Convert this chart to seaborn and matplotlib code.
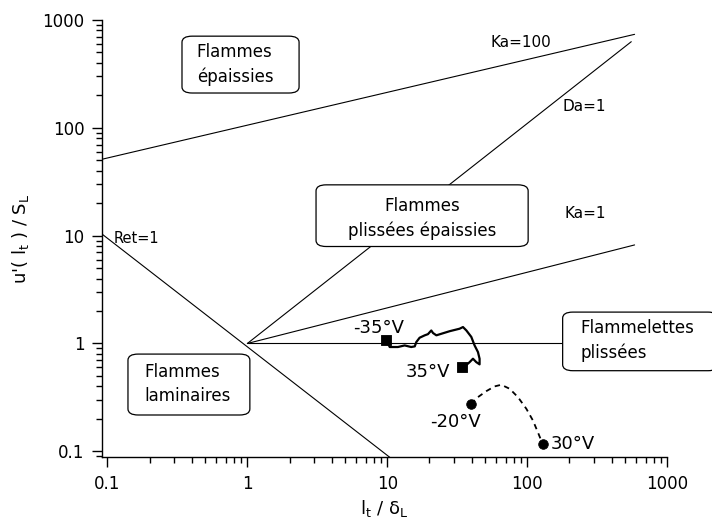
import matplotlib
matplotlib.use("Agg")
from matplotlib import pyplot as plt
from matplotlib.patches import FancyBboxPatch
from matplotlib.ticker import LogLocator, NullFormatter
import seaborn as sns

sns.set_style("ticks")
plt.rcParams['font.family'] = ['DejaVu Sans']
plt.rcParams['text.color'] = 'black'
plt.rcParams['axes.labelcolor'] = 'black'

# Axis ticks
tick_vals = [0.1, 1, 10, 100, 1000]
tick_labels = ["0.1", "1", "10", "100", "1000"]

# Regime boundaries of the combustion diagram
ret1_x = [0.091, 10.4]
ret1_y = [10.4, 0.088]
ka100_x = [0.091, 584]
ka100_y = [51, 736]
da1_x = [1, 553]
da1_y = [1, 629]
ka1_x = [1, 584]
ka1_y = [1, 8.2]
flam_x = [1, 600]
flam_y = [1, 1]

# Measured path -35 V -> 35 V
sq_x = [9.84, 10.4, 11.9, 13.3, 14.8, 15.7, 16.1, 17.0, 18.5, 19.5, 20.6, 21.2,
        22.4, 24.3, 27.9, 32.8, 34.7, 36.7, 39.8, 42.0, 44.4, 45.6, 45.6, 43.2,
        40.9, 38.7, 35.7, 34.1]
sq_y = [1.07, 0.927, 0.927, 0.959, 0.927, 0.94, 1.03, 1.13, 1.19, 1.22, 1.32, 1.25,
        1.19, 1.23, 1.30, 1.37, 1.42, 1.32, 1.15, 0.959, 0.832, 0.722, 0.64, 0.671,
        0.722, 0.671, 0.612, 0.604]

# Measured path -20 V -> 30 V
ci_x = [39.4, 44.4, 50.9, 58.4, 65.2, 74.8, 85.7, 98.4, 109.7, 119, 129]
ci_y = [0.276, 0.318, 0.361, 0.40, 0.414, 0.38, 0.318, 0.248, 0.193, 0.150, 0.116]

fig = plt.figure(figsize=(7.12, 5.30), dpi=100)
ax = fig.add_axes([0.1428, 0.1372, 0.7944, 0.8251])

for xs, ys in [(ret1_x, ret1_y), (ka100_x, ka100_y), (da1_x, da1_y),
               (ka1_x, ka1_y), (flam_x, flam_y)]:
    sns.lineplot(x=xs, y=ys, ax=ax, color="black", lw=0.8, sort=False,
                 estimator=None, zorder=2)

sns.lineplot(x=sq_x, y=sq_y, ax=ax, color="black", lw=1.6, sort=False,
             estimator=None, zorder=3)
sns.lineplot(x=ci_x, y=ci_y, ax=ax, color="black", lw=1.3, sort=False,
             estimator=None, zorder=3, linestyle=(0, (3, 2.5)))
sns.scatterplot(x=[sq_x[0], sq_x[-1]], y=[sq_y[0], sq_y[-1]], ax=ax, marker="s",
                s=60, color="black", edgecolor="black", zorder=4)
sns.scatterplot(x=[ci_x[0], ci_x[-1]], y=[ci_y[0], ci_y[-1]], ax=ax, marker="o",
                s=48, color="black", edgecolor="black", zorder=4)

ax.set_xscale("log")
ax.set_yscale("log")
ax.set_xlim(0.091, 1000)
ax.set_ylim(0.088, 1000)
ax.set_xticks(tick_vals)
ax.set_xticklabels(tick_labels)
ax.set_yticks(tick_vals)
ax.set_yticklabels(tick_labels)
ax.xaxis.set_minor_locator(LogLocator(base=10, subs=range(2, 10)))
ax.yaxis.set_minor_locator(LogLocator(base=10, subs=range(2, 10)))
ax.xaxis.set_minor_formatter(NullFormatter())
ax.yaxis.set_minor_formatter(NullFormatter())
ax.tick_params(which="major", length=7.5, width=1, labelsize=12, pad=5,
               colors="black")
ax.tick_params(which="minor", length=4.3, width=1, colors="black")
sns.despine(ax=ax)
for s in ["left", "bottom"]:
    ax.spines[s].set_linewidth(1)
    ax.spines[s].set_color("black")

ax.set_xlabel(r"l$_\mathregular{t}$ / δ$_\mathregular{L}$", fontsize=13, labelpad=4)
ax.set_ylabel(r"u'( l$_\mathregular{t}$ ) / S$_\mathregular{L}$", fontsize=13,
              labelpad=8)

# Regime boxes (axes coords)
boxes = [
    (0.142, 0.833, 0.349, 0.963, "Flammes\népaissies", 0.168, 0.898, "left"),
    (0.379, 0.482, 0.754, 0.623, "Flammes\nplissées épaissies", 0.566, 0.545, "center"),
    (0.0465, 0.0967, 0.262, 0.236, "Flammes\nlaminaires", 0.0748, 0.167, "left"),
    (0.815, 0.198, 1.09, 0.332, "Flammelettes\nplissées", 0.847, 0.266, "left"),
]
for x0, y0, x1, y1, txt, tx, ty, al in boxes:
    p = FancyBboxPatch((x0, y0), x1 - x0, y1 - y0, boxstyle="round,pad=0,rounding_size=0.018",
                       transform=ax.transAxes, fc="white", ec="black", lw=0.9,
                       zorder=5, clip_on=False, mutation_aspect=437.3 / 565.6)
    ax.add_patch(p)
    ax.text(tx, ty, txt, transform=ax.transAxes, ha=al, va="center",
            multialignment=al, fontsize=12, linespacing=1.45, zorder=6)

# Line labels
ax.text(0.742, 0.949, "Ka=100", transform=ax.transAxes, ha="center", va="center", fontsize=11)
ax.text(0.853, 0.803, "Da=1", transform=ax.transAxes, ha="center", va="center", fontsize=11)
ax.text(0.855, 0.558, "Ka=1", transform=ax.transAxes, ha="center", va="center", fontsize=11)
ax.text(0.0619, 0.501, "Ret=1", transform=ax.transAxes, ha="center", va="center", fontsize=10.5)

# Point labels
ax.text(0.489, 0.296, "-35°V", transform=ax.transAxes, ha="center", va="center", fontsize=13)
ax.text(0.577, 0.196, "35°V", transform=ax.transAxes, ha="center", va="center", fontsize=13)
ax.text(0.625, 0.081, "-20°V", transform=ax.transAxes, ha="center", va="center", fontsize=13)
ax.text(0.833, 0.030, "30°V", transform=ax.transAxes, ha="center", va="center", fontsize=13)

fig.savefig("out.png", dpi=100)
